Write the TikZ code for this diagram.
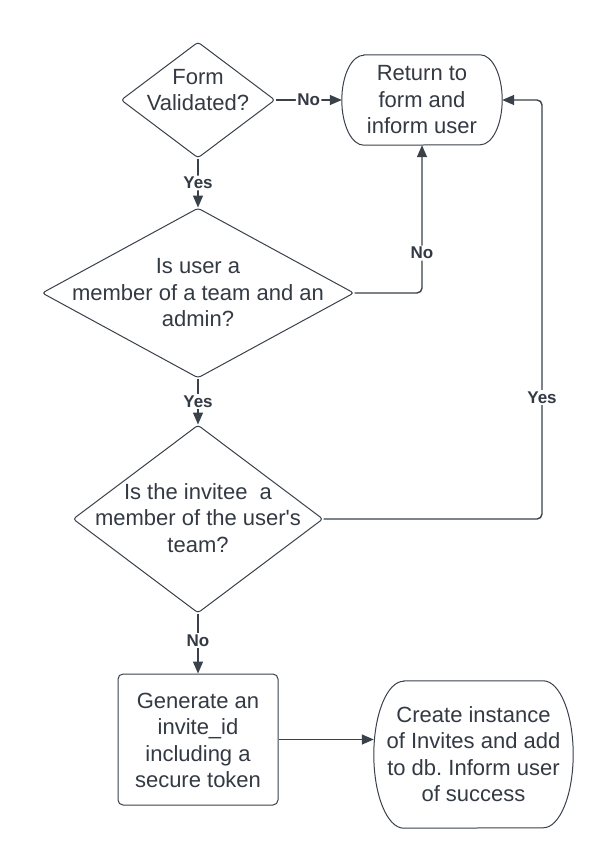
\documentclass[tikz,border=0pt]{standalone}
\usepackage{fontspec}
\newfontfamily\lsans{Liberation Sans}
\usetikzlibrary{shapes.geometric,arrows.meta,calc}
\definecolor{ln}{HTML}{3A414A}
\definecolor{tx}{HTML}{333A44}
\frenchspacing
\begin{document}
\begin{tikzpicture}[x=1pt,y=-1pt,
 txt/.style={font=\lsans\fontsize{22}{26.5}\selectfont, text=tx, align=center, inner sep=0pt},
 dia/.style={diamond, draw=ln, line width=1pt, rounded corners=3pt, inner sep=0pt},
 shp/.style={draw=ln, line width=1pt},
 arr/.style={draw=ln, line width=1.4pt, -{Triangle[length=12pt,width=10pt]}, rounded corners=5pt},
 lbl/.style={fill=white, font=\lsans\bfseries\fontsize{17}{18}\selectfont, text=tx, inner sep=1.5pt}]
\useasboundingbox[fill=white] (0,0) rectangle (614,868);

% decision 1
\node[dia, minimum width=154pt, minimum height=116pt] (d1) at (198,100) {};
\node[txt] (d1t) at (198,90) {Form\\Validated?};

% return box
\node[minimum width=160pt, minimum height=90pt, inner sep=0pt] (ret) at (422,100) {};
\draw[shp] ([xshift=22pt]ret.north west) -- ([xshift=-22pt]ret.north east)
  arc[start angle=90,end angle=-90,x radius=22pt,y radius=45pt]
  -- ([xshift=22pt]ret.south west)
  arc[start angle=270,end angle=90,x radius=22pt,y radius=45pt] -- cycle;
\node[txt] (rett) at (422,100) {Return to\\form and\\inform user};

% decision 2
\node[dia, minimum width=312pt, minimum height=170pt] (d2) at (198,293) {};
\node[txt] (d2t) at (198,293) {Is user a\\member of a team and an\\admin?};

% decision 3
\node[dia, minimum width=250pt, minimum height=188pt] (d3) at (198,519) {};
\node[txt] (d3t) at (198,518) {Is the invitee~ a\\member of the user's\\team?};

% generate box
\node[shp, rounded corners=5pt, minimum width=160pt, minimum height=131pt, inner sep=0pt] (gen) at (198,739.5) {};
\node[txt] (gent) at (198,740.5) {Generate an\\invite\_id\\including a\\secure token};

% create node
\node[minimum width=199pt, minimum height=147pt, inner sep=0pt] (cr) at (473.5,754.5) {};
\draw[shp] ([xshift=30pt]cr.north west) -- ([xshift=-30pt]cr.north east)
  arc[start angle=90,end angle=-90,x radius=30pt,y radius=73.5pt]
  -- ([xshift=30pt]cr.south west)
  arc[start angle=270,end angle=90,x radius=30pt,y radius=73.5pt] -- cycle;
\node[txt] (crt) at (473.5,754) {Create instance\\of Invites and add\\to db. Inform user\\of success};

% connectors
\coordinate (yc) at (542,100);
\draw[arr] (d1.east) -- node[lbl]{No} (ret.west);
\draw[arr] (d1.south) -- node[lbl]{Yes} (d2.north);
\draw[arr] (d2.east) -| node[lbl,pos=0.635]{No} (ret.south);
\draw[arr] (d2.south) -- node[lbl]{Yes} (d3.north);
\draw[arr] (d3.east) -| node[lbl,pos=0.645]{Yes} (yc) -- (ret.east);
\draw[arr] (d3.south) -- node[lbl,pos=0.45]{No} (gen.north);
\draw[arr] (gen.east) -- (gen.east -| cr.west);
\end{tikzpicture}
\end{document}
